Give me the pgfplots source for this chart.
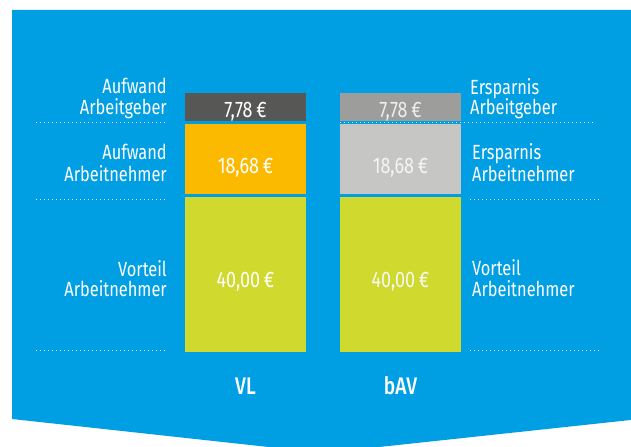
\documentclass[border=0pt]{standalone}
\usepackage{pgfplots}
\pgfplotsset{compat=1.18}
\usepackage{fontspec}
\setmainfont{Fira Sans}[BoldFont=* Medium, FakeStretch=0.8]
\definecolor{bg}{HTML}{009FE3}
\definecolor{dgray}{HTML}{575756}
\definecolor{org}{HTML}{FBBA00}
\definecolor{grn}{HTML}{D0D92D}
\definecolor{mgray}{HTML}{9D9D9C}
\definecolor{lgray}{HTML}{C6C6C5}
\begin{document}
\begin{tikzpicture}
\useasboundingbox (0,0) rectangle (631bp,447bp);
\clip (0,0) rectangle (631bp,447bp);
\begin{scope}[x=1bp,y=-1bp,yshift=447bp]
\fill[white] (0,0) rectangle (631,447);
\fill[bg] (12,10) -- (640,10) -- (640,419) -- (323.5,453) -- (12,419) -- cycle;
\end{scope}
\pgfplotsset{barax/.style={at={(0bp,0bp)}, anchor=south west, scale only axis,
  width=631bp, height=447bp, xmin=0, xmax=631, ymin=-23.72, ymax=89.68,
  hide axis, ybar stacked, bar width=124, clip=false}}
\begin{axis}[barax]
\addplot[fill=grn, draw=bg, line width=3bp] coordinates {(245.5,40)};
\addplot[fill=org, draw=bg, line width=3bp] coordinates {(245.5,18.68)};
\addplot[fill=dgray, draw=bg, line width=3bp] coordinates {(245.5,7.78)};
\end{axis}
\begin{axis}[barax]
\addplot[fill=grn, draw=bg, line width=3bp] coordinates {(400.5,40)};
\addplot[fill=lgray, draw=bg, line width=3bp] coordinates {(400.5,18.68)};
\addplot[fill=mgray, draw=bg, line width=3bp] coordinates {(400.5,7.78)};
\end{axis}
\begin{scope}[x=1bp,y=-1bp,yshift=447bp, every node/.style={white, inner sep=0pt, font=\fontsize{20.5bp}{21bp}\selectfont}]
\tikzset{dl/.style={white, line width=1.3bp, dash pattern=on 1.3bp off 2.7bp},
  val/.style={anchor=base, font=\fontsize{22.5bp}{23bp}\selectfont}}
\draw[dl] (36,122.5) -- (168,122.5);
\draw[dl] (36,199.5) -- (168,199.5);
\draw[dl] (36,350.5) -- (168,350.5);
\draw[dl] (340,122.5) -- (593,122.5);
\draw[dl] (470,199.5) -- (602,199.5);
\draw[dl] (470,350.5) -- (602,350.5);
\node[val] at (245.5,288) {40,00\,€};
\node[val] at (245.5,174) {18,68\,€};
\node[val] at (245.5,118) {7,78\,€};
\node[val, text=white!85!lgray] at (400.5,288) {40,00\,€};
\node[val, text=white!80!lgray] at (400.5,174) {18,68\,€};
\node[val, text=white!82!mgray] at (400.5,118) {7,78\,€};
\node[anchor=base east] at (167,94) {Aufwand};
\node[anchor=base east] at (167,115) {Arbeitgeber};
\node[anchor=base east] at (167,160) {Aufwand};
\node[anchor=base east] at (167,182) {Arbeitnehmer};
\node[anchor=base east] at (167,276.5) {Vorteil};
\node[anchor=base east] at (167,296.5) {Arbeitnehmer};
\node[anchor=base west] at (470,94.5) {Ersparnis};
\node[anchor=base west] at (470,115) {Arbeitgeber};
\node[anchor=base west] at (472,160) {Ersparnis};
\node[anchor=base west] at (472,182) {Arbeitnehmer};
\node[anchor=base west] at (472,276) {Vorteil};
\node[anchor=base west] at (472,296.5) {Arbeitnehmer};
\node[anchor=base, font=\fontsize{24bp}{25bp}\selectfont\bfseries] at (245.5,394.5) {VL};
\node[anchor=base, font=\fontsize{24bp}{25bp}\selectfont\bfseries] at (400.5,394.5) {bAV};
\end{scope}
\end{tikzpicture}
\end{document}
